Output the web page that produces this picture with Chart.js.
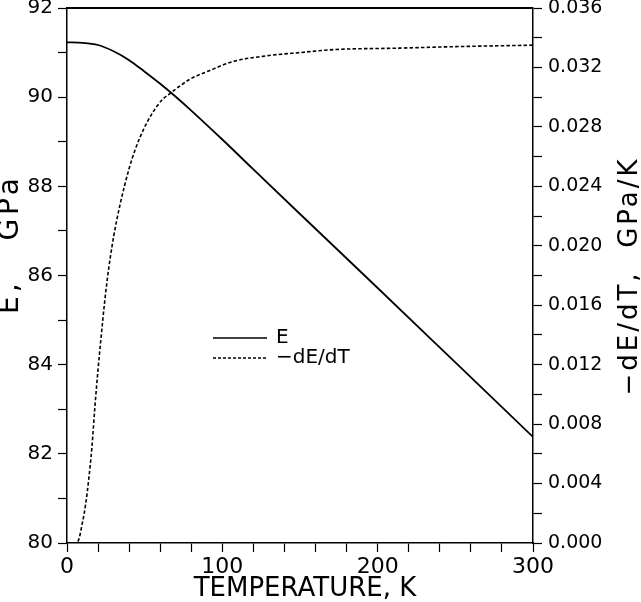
<!DOCTYPE html>
<html>
<head>
<meta charset="utf-8">
<script src="https://cdn.jsdelivr.net/npm/chart.js@4.4.1/dist/chart.umd.min.js"></script>
<style>
  body { margin: 0; background: #fff; }
  #wrap { width: 641px; height: 602px; }
</style>
</head>
<body>
<div id="wrap"><canvas id="modChart" width="641" height="602"></canvas></div>
<script>
// Young's modulus E vs temperature (left axis) and -dE/dT (right axis)
const tempE = [0, 10, 20, 30, 40, 50, 60, 70, 80, 100, 120, 150, 200, 250, 300];
const modulusE = [91.23, 91.22, 91.17, 91.03, 90.83, 90.57, 90.30, 90.01, 89.70, 89.05, 88.38, 87.38, 85.72, 84.05, 82.38];

const tempD = [0, 5, 7, 10, 12, 14, 16, 18, 20, 22, 24, 26, 28, 30, 34, 40, 44, 47, 52, 58, 62, 67, 72, 79, 92, 107, 130, 150, 172, 214, 250, 300];
const slopeD = [0, 0, 0.0001, 0.0014, 0.0026, 0.0043, 0.0064, 0.0092, 0.0117, 0.0139, 0.0160, 0.0178, 0.0193, 0.0206, 0.0227, 0.0252, 0.0265, 0.0273, 0.0284, 0.0294, 0.0299, 0.0303, 0.0307, 0.0312, 0.0318, 0.0324, 0.0328, 0.0330, 0.0332, 0.0333, 0.0334, 0.0335];

const xTicks = [0, 100, 200, 300];
const leftTicks = [80, 82, 84, 86, 88, 90, 92];
const rightTicks = ['0.000', '0.004', '0.008', '0.012', '0.016', '0.020', '0.024', '0.028', '0.032', '0.036'];

const FONT = '"DejaVu Sans", sans-serif';
let chart;

function tickGrid() {
  return { drawOnChartArea: false, color: '#000', tickLength: 9, tickWidth: 1.2 };
}

// frame top line, legend and axis titles
const decor = {
  id: 'decor',
  afterDraw(c) {
    const ctx = c.ctx, a = c.chartArea;
    ctx.save();
    ctx.strokeStyle = '#000';
    ctx.lineWidth = 2;
    ctx.beginPath();
    ctx.moveTo(a.left, a.top);
    ctx.lineTo(a.right, a.top);
    ctx.stroke();

    // legend
    const lx = a.left + 146, ly = 338;
    c.data.datasets.forEach((ds, i) => {
      const y = ly + i * 20;
      ctx.lineWidth = 1.5;
      ctx.setLineDash(i === 0 ? [] : [3, 2]);
      ctx.beginPath();
      ctx.moveTo(lx, y);
      ctx.lineTo(lx + 54, y);
      ctx.stroke();
      ctx.setLineDash([]);
      ctx.fillStyle = '#000';
      ctx.font = '20px ' + FONT;
      ctx.textAlign = 'left';
      ctx.textBaseline = 'middle';
      ctx.fillText(ds.label, lx + 63, y);
    });

    ctx.fillStyle = '#000';
    ctx.font = '26px ' + FONT;
    ctx.textAlign = 'center';
    ctx.textBaseline = 'middle';
    ctx.fillText('TEMPERATURE, K', (a.left + a.right) / 2 + 5, 589);

    ctx.letterSpacing = '3px';
    ctx.save();
    ctx.translate(630, 276);
    ctx.rotate(-Math.PI / 2);
    ctx.fillText('\u2212dE/dT,  GPa/K', 0, 0);
    ctx.restore();

    ctx.font = '28px ' + FONT;
    ctx.letterSpacing = '4px';
    ctx.save();
    ctx.translate(11, 244);
    ctx.rotate(-Math.PI / 2);
    ctx.fillText('E,   GPa', 0, 0);
    ctx.restore();
    ctx.restore();
  }
};

document.addEventListener("DOMContentLoaded", () => {
  const ctx = document.getElementById('modChart').getContext('2d');
  chart = new Chart(ctx, {
    type: 'line',
    data: {
      datasets: [
        {
          label: 'E',
          data: tempE.map((t, i) => ({ x: t, y: modulusE[i] })),
          yAxisID: 'y',
          borderColor: '#000',
          borderWidth: 1.8,
          pointRadius: 0,
          cubicInterpolationMode: 'monotone',
          fill: false
        },
        {
          label: '\u2212dE/dT',
          data: tempD.map((t, i) => ({ x: t, y: slopeD[i] })),
          yAxisID: 'y2',
          borderColor: '#000',
          borderWidth: 1.6,
          borderDash: [3.5, 2.2],
          pointRadius: 0,
          cubicInterpolationMode: 'monotone',
          fill: false
        }
      ]
    },
    options: {
      responsive: false,
      animation: false,
      layout: { padding: { top: 8, left: 0, right: 0, bottom: 0 } },
      plugins: {
        legend: { display: false },
        tooltip: { enabled: false }
      },
      scales: {
        x: {
          type: 'linear',
          min: 0,
          max: 300,
          grid: tickGrid(),
          border: { color: '#000', width: 1.5 },
          ticks: {
            stepSize: 20,
            autoSkip: false,
            maxRotation: 0,
            padding: 2,
            color: '#000',
            font: { family: FONT, size: 22 },
            callback: v => xTicks.includes(v) ? String(v) : ''
          },
          afterFit: s => { s.height = 59; s.paddingLeft = 0; s.paddingRight = 0; }
        },
        y: {
          position: 'left',
          min: 80,
          max: 92,
          grid: tickGrid(),
          border: { color: '#000', width: 1.5 },
          ticks: {
            stepSize: 1,
            autoSkip: false,
            padding: 5,
            color: '#000',
            font: { family: FONT, size: 20 },
            callback: v => leftTicks.includes(v) ? String(v) : ''
          },
          afterFit: s => { s.width = 67; s.paddingTop = 0; s.paddingBottom = 0; }
        },
        y2: {
          position: 'right',
          min: 0,
          max: 0.036,
          grid: tickGrid(),
          border: { color: '#000', width: 1.5 },
          ticks: {
            stepSize: 0.002,
            autoSkip: false,
            padding: 6,
            color: '#000',
            font: { family: FONT, size: 19 },
            callback: v => {
              const lab = v.toFixed(3);
              return rightTicks.includes(lab) ? lab : '';
            }
          },
          afterFit: s => { s.width = 108; s.paddingTop = 0; s.paddingBottom = 0; }
        }
      }
    },
    plugins: [decor]
  });
});
</script>
</body>
</html>
